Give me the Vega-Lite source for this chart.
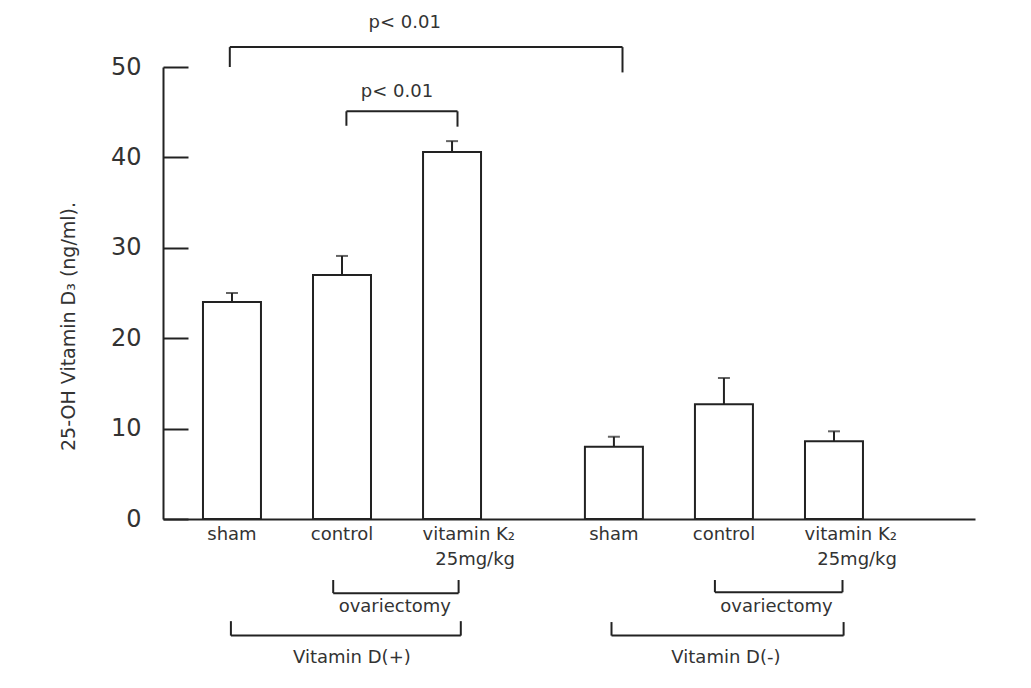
{
  "$schema": "https://vega.github.io/schema/vega-lite/v6.json",
  "width": 812,
  "height": 452,
  "autosize": {"type": "none"},
  "padding": {"left": 163, "top": 67, "right": 56, "bottom": 169},
  "background": "white",
  "config": {
    "view": {"stroke": null},
    "font": "DejaVu Sans",
    "text": {"font": "DejaVu Sans", "color": "#333"}
  },
  "datasets": {
    "bars": [
      {"vitD": "Vitamin D(+)", "treatment": "sham", "mean": 24.0, "upper": 25.0},
      {"vitD": "Vitamin D(+)", "treatment": "control", "mean": 27.0, "upper": 29.1},
      {"vitD": "Vitamin D(+)", "treatment": "vitamin K2", "mean": 40.6, "upper": 41.8},
      {"vitD": "Vitamin D(-)", "treatment": "sham", "mean": 8.0, "upper": 9.1},
      {"vitD": "Vitamin D(-)", "treatment": "control", "mean": 12.7, "upper": 15.6},
      {"vitD": "Vitamin D(-)", "treatment": "vitamin K2", "mean": 8.6, "upper": 9.7}
    ],
    "brackets": [
      {"x": 0.98, "x2": 4.55, "y": 52.2, "y2": 52.2},
      {"x": 0.98, "x2": 0.98, "y": 52.2, "y2": 50.0},
      {"x": 4.55, "x2": 4.55, "y": 52.2, "y2": 49.4},
      {"x": 2.04, "x2": 3.05, "y": 45.1, "y2": 45.1},
      {"x": 2.04, "x2": 2.04, "y": 45.1, "y2": 43.5},
      {"x": 3.05, "x2": 3.05, "y": 45.1, "y2": 43.4},
      {"x": 1.92, "x2": 3.06, "y": -8.2, "y2": -8.2},
      {"x": 1.92, "x2": 1.92, "y": -6.75, "y2": -8.2},
      {"x": 3.06, "x2": 3.06, "y": -6.75, "y2": -8.2},
      {"x": 0.99, "x2": 3.08, "y": -12.9, "y2": -12.9},
      {"x": 0.99, "x2": 0.99, "y": -11.3, "y2": -12.9},
      {"x": 3.08, "x2": 3.08, "y": -11.3, "y2": -12.9},
      {"x": 5.39, "x2": 6.55, "y": -8.1, "y2": -8.1},
      {"x": 5.39, "x2": 5.39, "y": -6.75, "y2": -8.1},
      {"x": 6.55, "x2": 6.55, "y": -6.75, "y2": -8.1},
      {"x": 4.45, "x2": 6.56, "y": -12.9, "y2": -12.9},
      {"x": 4.45, "x2": 4.45, "y": -11.4, "y2": -12.9},
      {"x": 6.56, "x2": 6.56, "y": -11.4, "y2": -12.9}
    ],
    "notes": [
      {"label": "p< 0.01", "x": 2.57, "y": 54.3},
      {"label": "p< 0.01", "x": 2.50, "y": 46.7},
      {"label": "ovariectomy", "x": 2.48, "y": -10.3},
      {"label": "ovariectomy", "x": 5.95, "y": -10.3},
      {"label": "Vitamin D(+)", "x": 2.09, "y": -15.9},
      {"label": "Vitamin D(-)", "x": 5.49, "y": -15.9}
    ]
  },
  "resolve": {"scale": {"x": "independent"}},
  "layer": [
    {
      "data": {"name": "bars"},
      "encoding": {
        "x": {
          "field": "vitD", "type": "nominal",
          "scale": {"domain": ["Vitamin D(+)", "Vitamin D(-)"], "paddingInner": 0.272, "paddingOuter": 0.199, "align": 0.263},
          "axis": {"labels": false, "ticks": false, "title": null, "domainColor": "#222", "domainWidth": 2}
        },
        "xOffset": {
          "field": "treatment", "type": "nominal",
          "scale": {"domain": ["sham", "control", "vitamin K2"], "paddingInner": 0.473, "paddingOuter": 0}
        }
      },
      "layer": [
        {
          "mark": {"type": "bar", "fill": "white", "stroke": "#222", "strokeWidth": 2},
          "encoding": {
            "y": {
              "field": "mean", "type": "quantitative",
              "scale": {"domain": [0, 50], "nice": false},
              "axis": {
                "values": [0, 10, 20, 30, 40, 50],
                "grid": false,
                "domainColor": "#222", "domainWidth": 2,
                "tickColor": "#222", "tickWidth": 2, "tickSize": -25,
                "labelPadding": 47,
                "labelFontSize": 24, "labelColor": "#333", "labelFont": "DejaVu Sans",
                "title": "25-OH Vitamin D₃  (ng/ml).",
                "titleFont": "DejaVu Sans", "titleFontSize": 19, "titleFontWeight": "normal", "titleColor": "#333",
                "titleAngle": -90, "titleX": -95, "titleY": 259, "titleAlign": "center", "titleBaseline": "middle"
              }
            }
          }
        },
        {
          "mark": {"type": "rule", "stroke": "#222", "strokeWidth": 2},
          "encoding": {
            "y": {"field": "mean", "type": "quantitative"},
            "y2": {"field": "upper"}
          }
        },
        {
          "mark": {"type": "tick", "color": "#222", "size": 12, "thickness": 2, "orient": "horizontal"},
          "encoding": {
            "y": {"field": "upper", "type": "quantitative"}
          }
        },
        {
          "transform": [{"filter": "datum.treatment !== 'vitamin K2'"}],
          "mark": {"type": "text", "fontSize": 18, "align": "center", "baseline": "alphabetic", "color": "#333"},
          "encoding": {
            "y": {"datum": -2.3, "type": "quantitative"},
            "text": {"field": "treatment"}
          }
        },
        {
          "transform": [{"filter": "datum.treatment === 'vitamin K2'"}],
          "mark": {"type": "text", "fontSize": 18, "align": "right", "baseline": "alphabetic", "dx": 63, "lineHeight": 25, "color": "#333"},
          "encoding": {
            "y": {"datum": -2.3, "type": "quantitative"},
            "text": {"value": ["vitamin K₂", "25mg/kg"]}
          }
        }
      ]
    },
    {
      "encoding": {},
      "layer": [
        {
          "data": {"name": "brackets"},
          "mark": {"type": "rule", "stroke": "#222", "strokeWidth": 2},
          "encoding": {
            "x": {"field": "x", "type": "quantitative", "scale": {"domain": [0.3727, 7.7545], "nice": false, "zero": false}, "axis": null},
            "x2": {"field": "x2"},
            "y": {"field": "y", "type": "quantitative"},
            "y2": {"field": "y2"}
          }
        },
        {
          "data": {"name": "notes"},
          "mark": {"type": "text", "fontSize": 18, "align": "center", "baseline": "alphabetic", "color": "#333"},
          "encoding": {
            "x": {"field": "x", "type": "quantitative", "scale": {"domain": [0.3727, 7.7545], "nice": false, "zero": false}, "axis": null},
            "y": {"field": "y", "type": "quantitative"},
            "text": {"field": "label"}
          }
        }
      ]
    }
  ]
}
